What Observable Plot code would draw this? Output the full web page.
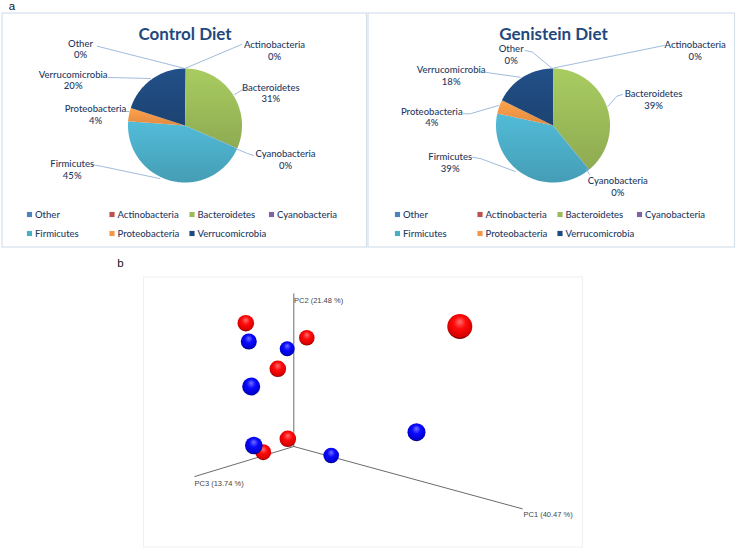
<!DOCTYPE html>
<html><head><meta charset="utf-8">
<script src="https://cdn.jsdelivr.net/npm/d3@7"></script>
<script src="https://cdn.jsdelivr.net/npm/@observablehq/plot@0.6"></script>
<style>body{margin:0;background:#fff} svg{display:block}</style>
</head><body><div id="chart"></div>
<script>
// ---------- DATA ----------
const phyla = ["Other","Actinobacteria","Bacteroidetes","Cyanobacteria","Firmicutes","Proteobacteria","Verrucomicrobia"];
const controlPct   = [0.1, 0.2, 31.2, 0.1, 44.6, 3.8, 20.0];
const genisteinPct = [0.1, 0.1, 38.8, 0.1, 39.3, 3.9, 17.7];
const dietTitles = ["Control Diet", "Genistein Diet"];

// PCoA (projected onto the 3-D view; units relative to the axes' origin)
const sampleGroup = ["red","red","red","red","red","red","blue","blue","blue","blue","blue","blue"];
const projX = [-48, 13, -16, 166, -6, -30.6, -45, -6.6, -42.6, -40, 37.4, 122.7];
const projY = [-123.3, -108.7, -77.7, -120, -7.7, 5.7, -105, -97.7, -60, -1, 9, -14.3];
const depthSize = [8.3, 7.8, 8.3, 12.5, 8.3, 8, 8, 7.5, 9, 8.8, 7.8, 9];
const axisNames = ["PC1 (40.47 %)", "PC2 (21.48 %)", "PC3 (13.74 %)"];

// ---------- STYLE / LAYOUT ----------
const phylumColors = ["#4F81BD","#C0504D","#9BBB59","#8064A2","#4BACC6","#F79646","#1F497D"];
const labelColor = "#1F3A5F";
const leaderColor = "#95B3D7";
const fontFamily = "Lato, 'Open Sans', sans-serif";
const panels = [
  {left: 2, cx: 184.5, cy: 125, r: 57, titleX: 184.5,
   labels: [[80,48.6],[274,50],[270.3,92.5],[285,159],[71.7,169],[95,114],[72.7,79.5]],
   leaders: [[[96.7,45.7],[183.3,67.7]], [[185,67.7],[241,44]], [[234,94],[246,87]],
             [[235,148],[247,153],[253,155]], [[91,164],[102,166],[159,178]],
             [[126,111],[128.5,111]], [[108,77],[150,78]]]},
  {left: 370, cx: 552.5, cy: 125, r: 57, titleX: 553,
   labels: [[510.7,53.7],[694.7,49.7],[653,99],[617.3,186],[449.7,162],[431.3,116.3],[450.7,75]],
   leaders: [[[524.7,50],[532,51.7],[551.3,67.7]], [[552.3,67.7],[658.7,46],[664,45]],
             [[607.3,106],[616.3,95.7],[622,94]], [[586,169],[589,174]],
             [[472,156.7],[480.7,158.3],[514.7,171]], [[463,113.3],[469.7,113.3],[498,105]],
             [[485.3,71.7],[490.7,72.7],[519.7,76.7]]]}
];
const legendCols = [27, 109.5, 189.5, 269];
const legendRows = [214, 233];
const origin = [293.3, 446];
const axisEnds = [[521.7, 508.3], [293.3, 293.3], [194.3, 476]];
const axisLabelPos = [[523, 514.5], [293.5, 300.5], [194, 483.5]];

// ---------- BUILD ----------
const gid = (i) => `pieg${i}`;
const sliceRows = [], labelRows = [], leaderRows = [], legendRowsData = [], titleRows = [];
[controlPct, genisteinPct].forEach((vals, p) => {
  const P = panels[p];
  const total = d3.sum(vals);
  let acc = 0;
  vals.forEach((v, i) => {
    const a0 = acc / total * 2 * Math.PI;
    acc += v;
    const a1 = acc / total * 2 * Math.PI;
    const key = `${p}-${i}`;
    const n = Math.max(2, Math.ceil((a1 - a0) / (Math.PI / 180)));
    sliceRows.push({key, x: P.cx, y: P.cy, fill: `url(#${gid(i)})`});
    for (let k = 0; k <= n; k++) {
      const a = a0 + (a1 - a0) * k / n;
      sliceRows.push({key, x: P.cx + P.r * Math.sin(a), y: P.cy - P.r * Math.cos(a), fill: `url(#${gid(i)})`});
    }
    sliceRows.push({key, x: P.cx, y: P.cy, fill: `url(#${gid(i)})`});
    labelRows.push({x: P.labels[i][0], y: P.labels[i][1], text: `${phyla[i]}\n${Math.round(v / total * 100)}%`});
    P.leaders[i].forEach(([x, y]) => leaderRows.push({key, x, y}));
    legendRowsData.push({x: P.left + legendCols[i % 4], y: legendRows[Math.floor(i / 4)], name: phyla[i], color: phylumColors[i]});
  });
  titleRows.push({x: P.titleX, y: 34.5, text: dietTitles[p]});
});

const spheres = sampleGroup.map((g, i) => ({x: origin[0] + projX[i], y: origin[1] + projY[i], r: depthSize[i], fill: `url(#sph-${g})`}));
const axisLines = [];
axisEnds.forEach((e, i) => { axisLines.push({key: i, x: origin[0], y: origin[1]}); axisLines.push({key: i, x: e[0], y: e[1]}); });
const axisLabels = axisNames.map((t, i) => ({x: axisLabelPos[i][0], y: axisLabelPos[i][1], text: t}));

const frames = [
  {x1: 2, x2: 366.5, y1: 13, y2: 247}, {x1: 368, x2: 734.5, y1: 13, y2: 247}
];
const frameB = [{x1: 143.5, x2: 582.5, y1: 277, y2: 547}];

const chart = Plot.plot({
  width: 737, height: 548, margin: 0,
  x: {domain: [0, 737], range: [0, 737], axis: null},
  y: {domain: [0, 548], range: [0, 548], axis: null},
  color: {type: "identity"},
  r: {type: "linear", domain: [0, 20], range: [0, 20]},
  style: {fontFamily, background: "white"},
  marks: [
    Plot.rect(frames, {x1: "x1", x2: "x2", y1: "y1", y2: "y2", fill: "none", stroke: "#D5E0EC", strokeWidth: 1.2}),
    Plot.rect(frameB, {x1: "x1", x2: "x2", y1: "y1", y2: "y2", fill: "none", stroke: "#EEF0F3", strokeWidth: 1}),
    Plot.text([{x: 11.5, y: 6, t: "a"}, {x: 120, y: 262.5, t: "b"}], {x: "x", y: "y", text: "t", fontSize: 11.5, fill: "#111", fontFamily: "'Liberation Sans', Arial, sans-serif"}),
    Plot.line(sliceRows, {x: "x", y: "y", z: "key", fill: "fill", stroke: "none", curve: "linear"}),
    Plot.line(leaderRows, {x: "x", y: "y", z: "key", stroke: leaderColor, strokeWidth: 0.9, curve: "linear"}),
    Plot.text(labelRows, {x: "x", y: "y", text: "text", fontSize: 9.5, fill: labelColor, lineHeight: 1.2, fontWeight: 500}),
    Plot.text(titleRows, {x: "x", y: "y", text: "text", fontSize: 17, fontWeight: "bold", fill: "#1F497D"}),
    Plot.dot(legendRowsData, {x: "x", y: "y", symbol: "square", r: 2.9, fill: "color", stroke: "none"}),
    Plot.text(legendRowsData, {x: d => d.x + 5.5, y: "y", text: "name", textAnchor: "start", fontSize: 9.5, fill: labelColor, fontWeight: 500}),
    Plot.line(axisLines, {x: "x", y: "y", z: "key", stroke: "#6b6b6b", strokeWidth: 1}),
    Plot.text(axisLabels, {x: "x", y: "y", text: "text", textAnchor: "start", fontSize: 7.5, fill: "#444", fontFamily: "'Liberation Sans', Arial, sans-serif"}),
    Plot.dot(spheres, {x: "x", y: "y", r: "r", fill: "fill", stroke: "none", sort: null})
  ]
});

// gradients (shading of slices and spheres)
const svg = d3.select(chart);
const defs = svg.insert("defs", ":first-child");
phylumColors.forEach((c, i) => {
  const g = defs.append("linearGradient").attr("id", gid(i)).attr("x1", 0).attr("y1", 0).attr("x2", 0).attr("y2", 1);
  g.append("stop").attr("offset", 0).attr("stop-color", d3.color(c).brighter(0.25).formatHex());
  g.append("stop").attr("offset", 1).attr("stop-color", d3.color(c).darker(0.25).formatHex());
});
[["red", ["#ff7070","#ff0a0a","#d80000","#4a0000"]], ["blue", ["#7070ff","#0a0aff","#0000d0","#00004a"]]].forEach(([k, s]) => {
  const g = defs.append("radialGradient").attr("id", `sph-${k}`).attr("cx", 0.5).attr("cy", 0.42).attr("r", 0.62).attr("fx", 0.5).attr("fy", 0.3);
  [[0, s[0]], [0.4, s[1]], [0.82, s[2]], [1, s[3]]].forEach(([o, c]) => g.append("stop").attr("offset", o).attr("stop-color", c));
});
document.getElementById("chart").appendChild(chart);
</script>
</body></html>
